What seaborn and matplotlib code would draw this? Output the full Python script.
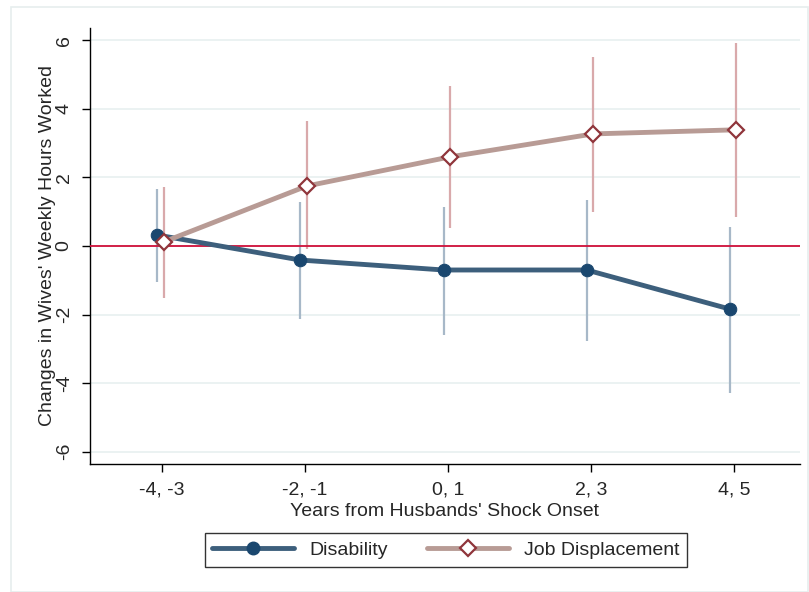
import matplotlib.pyplot as plt
import seaborn as sns
import numpy as np
from pandas import DataFrame
from matplotlib.patches import Rectangle
from matplotlib.lines import Line2D

# data
periods = ["-4, -3", "-2, -1", "0, 1", "2, 3", "4, 5"]
disability = [0.32, -0.41, -0.70, -0.70, -1.84]
disability_lo = [-1.05, -2.13, -2.60, -2.77, -4.29]
disability_hi = [1.66, 1.28, 1.15, 1.34, 0.56]
job = [0.12, 1.75, 2.60, 3.27, 3.39]
job_lo = [-1.51, -0.08, 0.53, 1.00, 0.85]
job_hi = [1.73, 3.65, 4.67, 5.52, 5.93]

blue_line = "#3d5f7c"
blue_mark = "#1a476f"
blue_ci = "#a7b8c8"
rose_line = "#b89b95"
rose_mark = "#90353b"
rose_ci = "#d9a9ab"

sns.set_style("white")
plt.rcParams['font.family'] = ['Liberation Sans', 'DejaVu Sans']
plt.rcParams['axes.unicode_minus'] = False

fig = plt.figure(figsize=(8.09, 5.92), dpi=100)
ax = fig.add_axes([90 / 809, 1 - 464 / 592, 710 / 809, 436 / 592])

# outer graph region frame
fig.patches.append(Rectangle((11 / 809, 0), 797 / 809, 1 - 7 / 592, transform=fig.transFigure,
                             fill=False, edgecolor="#e6eeee", linewidth=1.2))

x = np.arange(len(periods))
df = DataFrame({
    "x": np.concatenate([x - 0.03, x + 0.015]),
    "value": disability + job,
    "lo": disability_lo + job_lo,
    "hi": disability_hi + job_hi,
    "type": ["Disability"] * len(x) + ["Job Displacement"] * len(x),
})

# confidence intervals
d = df[df["type"] == "Disability"]
j = df[df["type"] == "Job Displacement"]
ax.vlines(d["x"], d["lo"], d["hi"], color=blue_ci, linewidth=1.6, zorder=2)
ax.vlines(j["x"], j["lo"], j["hi"], color=rose_ci, linewidth=1.6, zorder=2)

ax.axhline(0, color="#d0103a", linewidth=1.3, zorder=3)

sns.lineplot(data=d, x="x", y="value", ax=ax, color=blue_line, linewidth=3.5,
             marker="o", markersize=9, markerfacecolor=blue_mark, markeredgecolor=blue_mark,
             zorder=4, legend=False)
sns.lineplot(data=j, x="x", y="value", ax=ax, color=rose_line, linewidth=3.5,
             marker="D", markersize=8, markerfacecolor="white", markeredgecolor=rose_mark,
             markeredgewidth=1.6, zorder=5, legend=False)

ax.set_xlim(-0.5, 4.46)
ax.set_ylim(-6.36, 6.36)
ax.set_yticks([-6, -4, -2, 0, 2, 4, 6])
ax.set_xticks(x)
ax.set_xticklabels(periods)
ax.grid(axis="y", color="#e8f0f0", linewidth=1.2)
ax.set_axisbelow(True)
for s in ["top", "right"]:
    ax.spines[s].set_visible(False)
for s in ["left", "bottom"]:
    ax.spines[s].set_color("black")
    ax.spines[s].set_linewidth(1.0)

ax.tick_params(axis="both", which="major", length=6, width=1, color="black",
               labelsize=14, pad=6.5, direction="out", left=True, bottom=True)
plt.setp(ax.get_yticklabels(), rotation=90, va="center")
ax.set_xlabel("Years from Husbands' Shock Onset", fontsize=14, labelpad=3)
ax.set_ylabel("Changes in Wives' Weekly Hours Worked", fontsize=14, labelpad=0)

handles = [
    Line2D([], [], color=blue_line, linewidth=3.5, marker="o", markersize=9,
           markerfacecolor=blue_mark, markeredgecolor=blue_mark),
    Line2D([], [], color=rose_line, linewidth=3.5, marker="D", markersize=8,
           markerfacecolor="white", markeredgecolor=rose_mark, markeredgewidth=1.6),
]
leg = fig.legend(handles, ["Disability", "Job Displacement"], loc="center",
                 bbox_to_anchor=(446 / 809, 1 - 550 / 592), ncol=2, fontsize=14,
                 frameon=True, fancybox=False, edgecolor="black", handlelength=4.2,
                 columnspacing=2.0, borderpad=0.4)
leg.get_frame().set_linewidth(1.0)

fig.savefig("out.png", dpi=100)
